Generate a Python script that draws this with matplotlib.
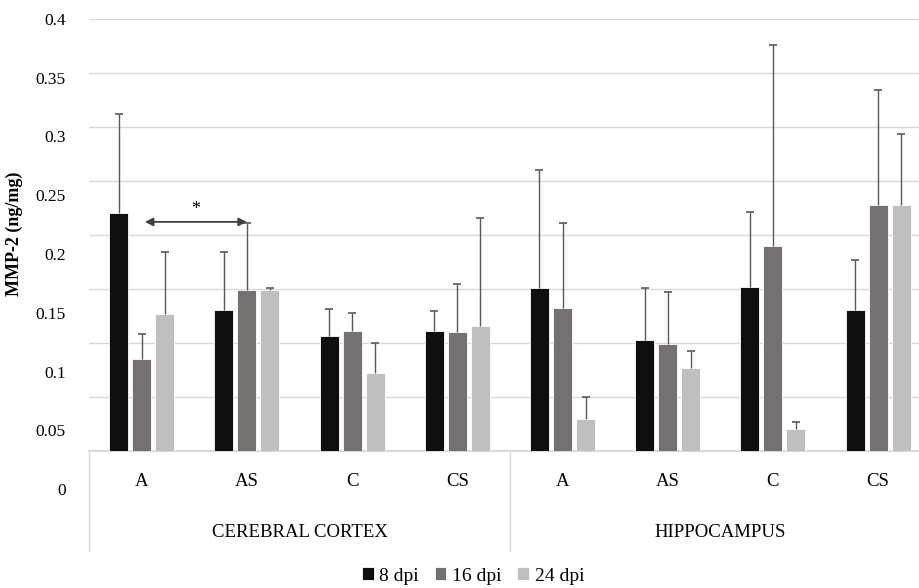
import matplotlib.pyplot as plt
import numpy as np
from matplotlib import transforms

plt.rcParams['font.family'] = ['Liberation Serif', 'DejaVu Serif']

# data (ng/mg)
categories = ['A', 'AS', 'C', 'CS', 'A', 'AS', 'C', 'CS']
groups = ['CEREBRAL CORTEX', 'HIPPOCAMPUS']
series = ['8 dpi', '16 dpi', '24 dpi']

mean_8 = [0.220, 0.130, 0.106, 0.111, 0.151, 0.103, 0.152, 0.130]
mean_16 = [0.085, 0.149, 0.111, 0.110, 0.132, 0.099, 0.190, 0.228]
mean_24 = [0.127, 0.149, 0.072, 0.116, 0.029, 0.077, 0.020, 0.228]

top_8 = [0.312, 0.184, 0.131, 0.129, 0.260, 0.151, 0.221, 0.177]
top_16 = [0.108, 0.211, 0.128, 0.154, 0.211, 0.147, 0.376, 0.334]
top_24 = [0.184, 0.151, 0.100, 0.216, 0.050, 0.092, 0.027, 0.293]

ytick_labels = ['0.4', '0.35', '0.3', '0.25', '0.2', '0.15', '0.1', '0.05', '0']

colors = ['#0f0f0f', '#767171', '#bfbfbf']

W, H = 919, 588
fig = plt.figure(figsize=(W / 100, H / 100), dpi=100)
# plot area runs past the right edge like in the reference
ax = fig.add_axes([89.1 / W, (H - 450.7) / H, 841.6 / W, 431.7 / H])

x = np.arange(len(categories))
offset = 0.219
width = 0.18
means = [mean_8, mean_16, mean_24]
tops = [top_8, top_16, top_24]
for i, (m, t) in enumerate(zip(means, tops)):
    xs = x + (i - 1) * offset
    ax.bar(xs, m, width, color=colors[i], edgecolor='white',
           linewidth=0.6, label=series[i], zorder=3)
    # upper error bars only, cap at the top end
    ax.vlines(xs, m, t, color='#595959', linewidth=1, zorder=4)
    ax.plot(xs, t, linestyle='none', marker='_', markersize=6, markeredgewidth=1.2,
            color='#595959', zorder=4)

ax.set_xlim(-0.5, len(categories) - 0.5)
ax.set_ylim(0, 0.4)
ax.set_yticks(np.arange(0, 0.41, 0.05))
ax.yaxis.grid(True, color='#d9d9d9', linewidth=1, zorder=0)
ax.set_yticklabels([])
ax.tick_params(left=False, bottom=False, labelbottom=False)
for s in ['top', 'right', 'left']:
    ax.spines[s].set_visible(False)
ax.spines['bottom'].set_color('#d9d9d9')
ax.spines['bottom'].set_linewidth(1.5)

# y tick labels (spaced a bit wider than the grid, as in the reference)
for i, lab in enumerate(ytick_labels):
    y_px = 21 + i * (491 - 21) / 8
    fig.text(66 / W, 1 - y_px / H, lab, ha='right', va='center', fontsize=12.5)

fig.text(14 / W, 1 - 234 / H, 'MMP-2 (ng/mg)', rotation=90, ha='center', va='center',
         fontsize=13, fontweight='bold')

# category axis: two-level labels
trans = transforms.blended_transform_factory(ax.transData, ax.transAxes)
for xi, c in zip(x, categories):
    ax.text(xi, -0.072, c, transform=trans, ha='center', va='center', fontsize=13.5)
for gi, g in enumerate(groups):
    ax.text(gi * 4 + 1.5, -0.19, g, transform=trans, ha='center', va='center', fontsize=13.5)
for xb in [-0.5, 3.5, 7.5]:
    ax.plot([xb, xb], [0, -0.232], transform=trans, color='#d9d9d9', lw=1, clip_on=False)

# significance marker
ax.annotate('', xy=(1.0, 0.212), xytext=(0.03, 0.212),
            arrowprops=dict(arrowstyle='<|-|>', color='#404040', lw=1.3,
                            mutation_scale=12, shrinkA=0, shrinkB=0), zorder=5)
ax.text(0.51, 0.216, '*', ha='center', va='bottom', fontsize=13)

handles, labels = ax.get_legend_handles_labels()
fig.legend(handles, labels, loc='center', bbox_to_anchor=(473 / W, 1 - 576 / H), ncol=3,
           frameon=False, fontsize=14, handlelength=0.6, handleheight=0.6,
           handletextpad=0.3, columnspacing=0.8)

fig.savefig('out.png', dpi=100)
